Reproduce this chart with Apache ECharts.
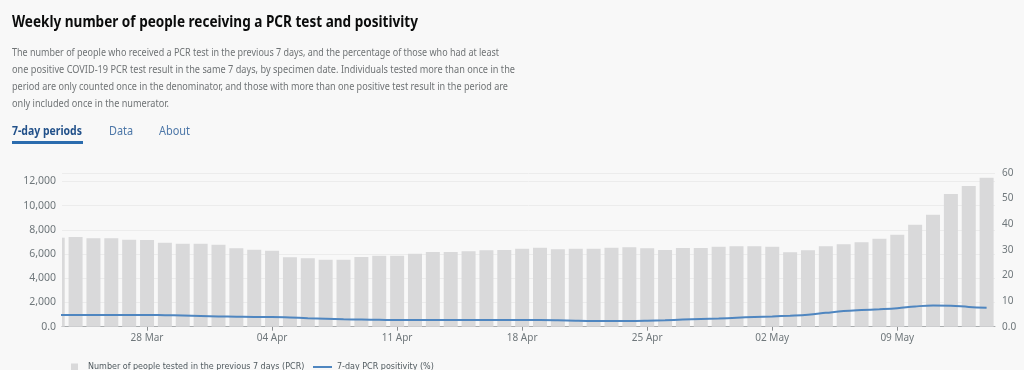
<!DOCTYPE html>
<html><head><meta charset="utf-8">
<script src="https://cdn.jsdelivr.net/npm/echarts@6/dist/echarts.min.js"></script>
<style>
html,body{margin:0;padding:0;background:#f8f8f8;width:1024px;height:370px;overflow:hidden;font-family:"Noto Sans",sans-serif;}
#chart{position:absolute;left:0;top:0;width:1024px;height:370px;}
.t{position:absolute;white-space:nowrap;transform-origin:0 50%;line-height:1;}
.d{font-size:11px;color:#6f7375;}
</style></head><body>
<div id="chart"></div>
<div class="t" data-w="406" style="left:12px;top:12.5px;font-size:16px;font-weight:700;color:#0b0c0c">Weekly number of people receiving a PCR test and positivity</div>
<div class="t d" data-w="487" style="left:12px;top:45.6px">The number of people who received a PCR test in the previous 7 days, and the percentage of those who had at least</div>
<div class="t d" data-w="503" style="left:12px;top:63.3px">one positive COVID-19 PCR test result in the same 7 days, by specimen date. Individuals tested more than once in the</div>
<div class="t d" data-w="496" style="left:12px;top:80px">period are only counted once in the denominator, and those with more than one positive test result in the period are</div>
<div class="t d" data-w="157" style="left:12px;top:96.6px">only included once in the numerator.</div>
<div class="t" data-w="70" style="left:12px;top:124.8px;font-size:12.5px;font-weight:700;color:#22518a">7-day periods</div>
<div class="t" data-w="24" style="left:108.5px;top:124.8px;font-size:12.5px;color:#4d77a8">Data</div>
<div class="t" data-w="31" style="left:159px;top:124.8px;font-size:12.5px;color:#4d77a8">About</div>
<div style="position:absolute;left:12px;top:140.5px;width:71px;height:3px;background:#2b6cae"></div>
<script>
const dates = ['23 Mar','24 Mar','25 Mar','26 Mar','27 Mar','28 Mar','29 Mar','30 Mar','31 Mar',
  '01 Apr','02 Apr','03 Apr','04 Apr','05 Apr','06 Apr','07 Apr','08 Apr','09 Apr','10 Apr',
  '11 Apr','12 Apr','13 Apr','14 Apr','15 Apr','16 Apr','17 Apr','18 Apr','19 Apr','20 Apr',
  '21 Apr','22 Apr','23 Apr','24 Apr','25 Apr','26 Apr','27 Apr','28 Apr','29 Apr','30 Apr',
  '01 May','02 May','03 May','04 May','05 May','06 May','07 May','08 May','09 May','10 May',
  '11 May','12 May','13 May','14 May'];
const tested = [7355,7413,7305,7305,7190,7165,6942,6859,6859,6777,6479,6363,6281,5735,5653,5537,5537,5760,5867,
  5867,6033,6173,6173,6231,6314,6338,6446,6529,6396,6446,6446,6529,6562,6479,6338,6504,6504,
  6612,6640,6640,6612,6146,6314,6640,6806,6975,7273,7603,8429,9256,10966,11628,12313];
const positivity = [4.6,4.6,4.6,4.6,4.6,4.6,4.5,4.4,4.2,4.0,3.9,3.8,3.8,3.6,3.3,3.1,2.9,2.8,2.7,
  2.6,2.6,2.6,2.6,2.6,2.6,2.6,2.6,2.6,2.5,2.3,2.2,2.2,2.2,2.3,2.5,2.8,3.0,
  3.2,3.5,3.8,4.0,4.3,4.7,5.4,6.1,6.5,6.8,7.2,7.9,8.3,8.2,7.7,7.4];
const xTickLabels = ['28 Mar','04 Apr','11 Apr','18 Apr','25 Apr','02 May','09 May'];
const seriesNames = ['Number of people tested in the previous 7 days (PCR)','7-day PCR positivity (%)'];

const tickIdx = xTickLabels.map(l => dates.indexOf(l));
const labelColor = '#6f777b';
const barColor = '#d9d9da';
const lineColor = '#4f86c0';
const legendFamily = '"Liberation Sans Narrow","DejaVu Sans Condensed",Lato,"Noto Sans"';
function fitFont(text, family, targetW, baseSize) {
  const c = document.createElement('canvas').getContext('2d');
  c.font = baseSize + 'px ' + family;
  return Math.min(10.5, baseSize * targetW / c.measureText(text).width);
}
const lf = Math.min(fitFont(seriesNames[0], legendFamily, 217, 10.5),
                    fitFont(seriesNames[1], legendFamily, 97, 10.5));

const chart = echarts.init(document.getElementById('chart'), null, {renderer: 'canvas'});
chart.setOption({
  animation: false,
  backgroundColor: 'transparent',
  textStyle: {fontFamily: 'Noto Sans'},
  grid: {left: 62, right: 29, top: 173, bottom: 43.3},
  xAxis: {
    type: 'value', min: 0.24, max: 52.47,
    splitLine: {show: false},
    axisLine: {show: true, onZero: false, lineStyle: {color: '#a9acae', width: 1}},
    axisTick: {show: true, customValues: tickIdx, length: 4, lineStyle: {color: '#8a8d8f'}},
    axisLabel: {customValues: tickIdx, formatter: v => dates[Math.round(v)], color: labelColor, fontSize: 10, margin: 6}
  },
  yAxis: [
    {type: 'value', min: 0, max: 12700, interval: 2000,
     axisLabel: {showMaxLabel: false, formatter: v => v === 0 ? '0.0' : v.toLocaleString('en-US'), color: labelColor, fontSize: 10.5, margin: 6},
     splitLine: {show: true, lineStyle: {color: '#ececec', width: 1}},
     axisLine: {show: false}, axisTick: {show: false}},
    {type: 'value', min: 0, max: 60, interval: 10, position: 'right',
     axisLabel: {formatter: v => v === 0 ? '0.0' : String(v), color: labelColor, fontSize: 10, margin: 7},
     splitLine: {show: false}, axisLine: {show: false}, axisTick: {show: false}}
  ],
  legend: [
    {data: [{name: seriesNames[0], itemStyle: {color: barColor}}], left: 71, top: 362.5, padding: 0,
     itemWidth: 7, itemHeight: 7, icon: 'rect',
     textStyle: {color: '#505a5f', fontSize: lf, fontFamily: legendFamily, padding: [0, 0, 0, 5]}},
    {data: [{name: seriesNames[1], itemStyle: {color: lineColor}}], left: 313, top: 362.5, padding: 0,
     itemWidth: 19, itemHeight: 2, icon: 'rect',
     textStyle: {color: '#505a5f', fontSize: lf, fontFamily: legendFamily}}
  ],
  series: [
    {name: seriesNames[0], type: 'custom', yAxisIndex: 0, data: tested.map((v, i) => [i, v]),
     itemStyle: {color: barColor},
     encode: {x: 0, y: 1},
     renderItem: function (params, api) {
       const p0 = api.coord([api.value(0), 0]);
       const p1 = api.coord([api.value(0), api.value(1)]);
       const bw = 14;
       const cs = params.coordSys;
       const shape = echarts.graphic.clipRectByRect(
         {x: p0[0] - bw / 2, y: p1[1], width: bw, height: p0[1] - p1[1]},
         {x: cs.x, y: cs.y, width: cs.width, height: cs.height});
       return shape && {type: 'rect', shape: shape, style: {fill: barColor}};
     }},
    {name: seriesNames[1], type: 'line', yAxisIndex: 1, data: positivity.map((v, i) => [i, v]),
     smooth: 0.4, symbol: 'none', clip: true, z: 3,
     lineStyle: {color: lineColor, width: 2}, itemStyle: {color: lineColor}}
  ]
});
function fit(){
  document.querySelectorAll('.t[data-w]').forEach(el => {
    el.style.transform = 'none';
    const w = el.getBoundingClientRect().width;
    el.style.transform = 'scaleX(' + (parseFloat(el.dataset.w) / w) + ')';
  });
}
fit();
if (document.fonts && document.fonts.ready) document.fonts.ready.then(fit);
</script>
</body></html>
